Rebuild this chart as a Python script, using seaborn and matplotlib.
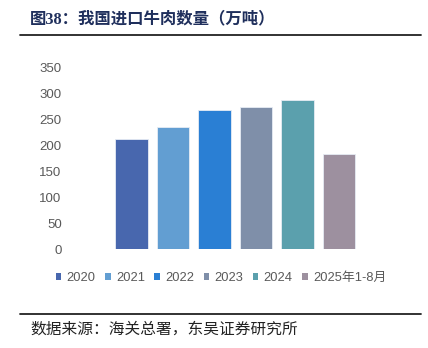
import matplotlib
matplotlib.use("Agg")
import matplotlib.pyplot as plt
import seaborn as sns
import pandas as pd
from matplotlib.patches import Patch
from matplotlib.lines import Line2D

series = ["2020", "2021", "2022", "2023", "2024", "2025年1-8月"]
values = [212, 234, 268, 273, 287, 182]
colors = ["#4867AE", "#629ED2", "#2A7FD4", "#7F8FA9", "#5BA0AD", "#9D909F"]
yticks = [0, 50, 100, 150, 200, 250, 300, 350]

sns.set_theme(style="white")
plt.rcParams['font.family'] = ['Noto Sans CJK SC', 'DejaVu Sans']

df = pd.DataFrame({"series": series, "value": values})

fig = plt.figure(figsize=(4.28, 3.48), dpi=100)
ax = fig.add_axes([70/428, 1-249/348, (395-70)/428, (249-67)/348])

sns.barplot(data=df, x="series", y="value", hue="series", palette=colors,
            width=0.79, legend=False, ax=ax, edgecolor="#e6ecf4", linewidth=0.6,
            saturation=1)

ax.set_ylim(0, 350)
ax.set_xlim(-1.48, 6.35)
ax.set_yticks(yticks)
ax.set_yticklabels([str(t) for t in yticks], fontsize=9.5, color="#595959",
                   family=['Liberation Sans', 'DejaVu Sans'])
ax.set_xticks([])
ax.set_xlabel("")
ax.set_ylabel("")
ax.tick_params(axis='y', length=0, pad=6)
for s in ax.spines.values():
    s.set_visible(False)

handles = [Patch(facecolor=c, edgecolor="none") for c in colors]
leg = fig.legend(handles, series, loc="center", bbox_to_anchor=(221/428, 1-278/348),
                 ncol=6, frameon=False, fontsize=9.3, handlelength=0.45, handleheight=0.45,
                 handletextpad=0.4, columnspacing=0.72, labelcolor="#595959")
for t in leg.get_texts():
    t.set_family(['Liberation Sans', 'Noto Sans CJK SC'])

fig.text(30/428, 1-19/348, "图38：我国进口牛肉数量（万吨）", fontsize=11.8,
         fontweight="bold", color="#1F2F5C", va="center", ha="left",
         family=['Liberation Serif', 'Noto Sans CJK SC'])
fig.add_artist(Line2D([20/428, 421/428], [1-35/348, 1-35/348], color="#222222",
                      linewidth=1.3, transform=fig.transFigure))
fig.add_artist(Line2D([20/428, 421/428], [1-314/348, 1-314/348], color="#222222",
                      linewidth=1.3, transform=fig.transFigure))
fig.text(30/428, 1-329/348, "数据来源：海关总署，东吴证券研究所", fontsize=11.3,
         color="#222222", va="center", ha="left")

fig.savefig("out.png", dpi=100)
